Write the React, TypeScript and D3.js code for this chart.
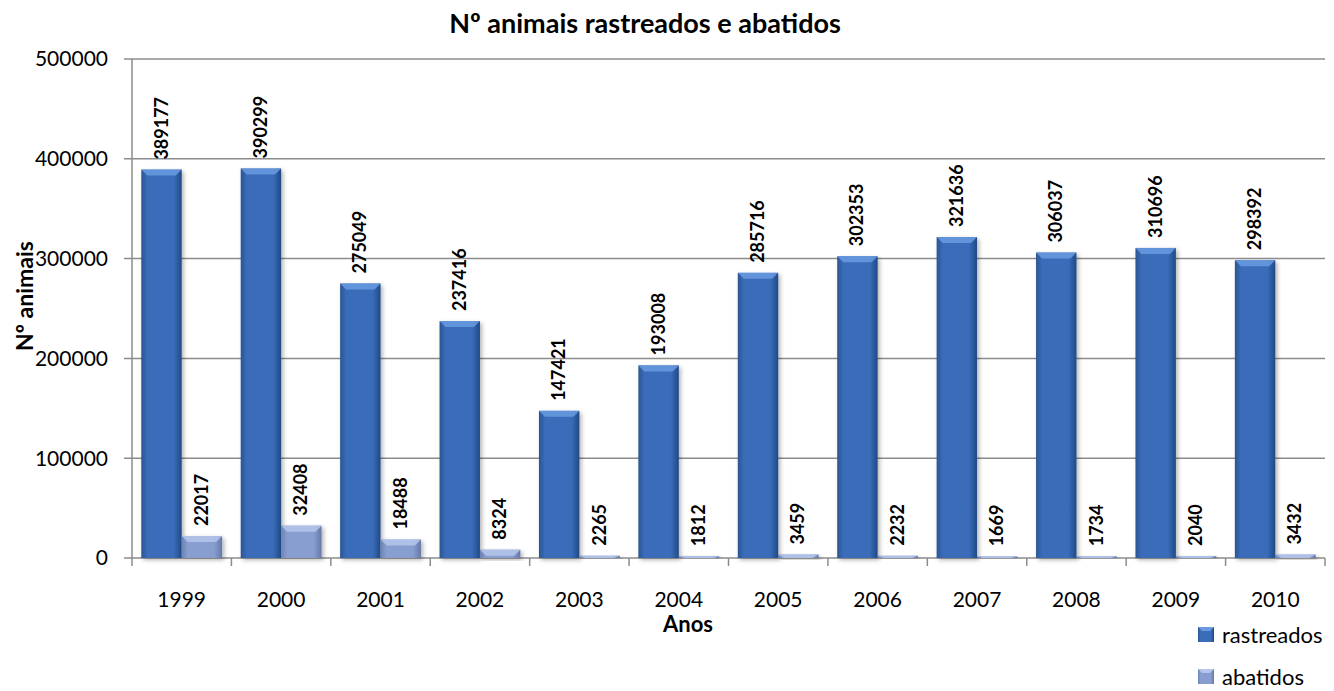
import React, { useEffect, useRef } from "react";
import * as d3 from "d3";

const years = ["1999", "2000", "2001", "2002", "2003", "2004", "2005", "2006", "2007", "2008", "2009", "2010"];
const rastreados = [389177, 390299, 275049, 237416, 147421, 193008, 285716, 302353, 321636, 306037, 310696, 298392];
const abatidos = [22017, 32408, 18488, 8324, 2265, 1812, 3459, 2232, 1669, 1734, 2040, 3432];
const seriesNames = ["rastreados", "abatidos"];
const yTicks = [0, 100000, 200000, 300000, 400000, 500000];

const FONT = "Lato, 'Open Sans', sans-serif";

const App: React.FC = () => {
  const ref = useRef<SVGSVGElement>(null);

  useEffect(() => {
    const svg = d3.select(ref.current);
    svg.selectAll("*").remove();

    const left = 132, right = 1325, top = 59, bottom = 558;

    const defs = svg.append("defs");
    const mkGrad = (id: string, c0: string, c1: string, c2: string) => {
      const g = defs.append("linearGradient").attr("id", id).attr("x1", "0").attr("x2", "1").attr("y1", "0").attr("y2", "0");
      g.append("stop").attr("offset", "0%").attr("stop-color", c0);
      g.append("stop").attr("offset", "15%").attr("stop-color", c1);
      g.append("stop").attr("offset", "80%").attr("stop-color", c1);
      g.append("stop").attr("offset", "100%").attr("stop-color", c2);
    };
    mkGrad("gR", "#2a5592", "#3a6cba", "#1f4a85");
    mkGrad("gA", "#6b82b2", "#889ed0", "#6579a8");
    const f = defs.append("filter").attr("id", "sh").attr("x", "-20%").attr("y", "-20%").attr("width", "150%").attr("height", "150%");
    f.append("feDropShadow").attr("dx", 2).attr("dy", 2).attr("stdDeviation", 2).attr("flood-color", "#000").attr("flood-opacity", 0.3);

    const x = d3.scaleBand().domain(years).range([left, right]).paddingInner(0).paddingOuter(0);
    const xs = d3.scaleBand().domain(seriesNames).range([0, x.bandwidth()]).paddingInner(0).paddingOuter(0.23);
    const y = d3.scaleLinear().domain([0, 500000]).range([bottom, top]);

    // gridlines
    svg.append("g").selectAll("line").data(yTicks).enter().append("line")
      .attr("x1", left - 8).attr("x2", right)
      .attr("y1", d => y(d)).attr("y2", d => y(d))
      .attr("stroke", "#8c8c8c").attr("stroke-width", 1.5);

    // y axis line
    svg.append("line").attr("x1", left).attr("x2", left).attr("y1", top).attr("y2", bottom)
      .attr("stroke", "#8c8c8c").attr("stroke-width", 1.5);

    // x ticks
    const bounds = years.map(d => x(d)!).concat([right]);
    svg.append("g").selectAll("line").data(bounds).enter().append("line")
      .attr("x1", d => d).attr("x2", d => d).attr("y1", bottom).attr("y2", bottom + 8)
      .attr("stroke", "#8c8c8c").attr("stroke-width", 1.5);

    // y tick labels
    svg.append("g").selectAll("text").data(yTicks).enter().append("text")
      .attr("x", 108).attr("y", d => y(d)).attr("dy", "0.35em")
      .attr("text-anchor", "end").attr("font-family", FONT).attr("font-size", 21)
      .text(d => String(d));

    // x tick labels
    svg.append("g").selectAll("text").data(years).enter().append("text")
      .attr("x", d => x(d)! + x.bandwidth() / 2).attr("y", 607)
      .attr("text-anchor", "middle").attr("font-family", FONT).attr("font-size", 21)
      .text(d => d);

    const series = [
      { name: "rastreados", values: rastreados, fill: "url(#gR)", top: "#6a9be0" },
      { name: "abatidos", values: abatidos, fill: "url(#gA)", top: "#b5c6ea" },
    ];

    series.forEach(s => {
      const g = svg.append("g");
      const bw = xs.bandwidth();
      const bars = g.selectAll("g.bar").data(years).enter().append("g");
      bars.append("rect")
        .attr("x", (d) => x(d)! + xs(s.name)!)
        .attr("y", (d, i) => y(s.values[i]))
        .attr("width", bw)
        .attr("height", (d, i) => bottom - y(s.values[i]))
        .attr("fill", s.fill)
        .attr("filter", "url(#sh)");
      // bevel top
      bars.append("path")
        .attr("d", (d, i) => {
          const x0 = x(d)! + xs(s.name)!;
          const y0 = y(s.values[i]);
          const h = Math.min(6, bottom - y0);
          return `M${x0},${y0}L${x0 + bw},${y0}L${x0 + bw - 6},${y0 + h}L${x0 + 6},${y0 + h}Z`;
        })
        .attr("fill", s.top).attr("opacity", 0.85);
      // labels
      g.selectAll("text").data(years).enter().append("text")
        .attr("transform", (d, i) => {
          const cx = x(d)! + xs(s.name)! + bw / 2;
          const cy = y(s.values[i]) - 10;
          return `translate(${cx + 6},${cy}) rotate(-90)`;
        })
        .attr("text-anchor", "start").attr("font-family", FONT).attr("font-size", 18)
        .attr("font-weight", "bold")
        .text((d, i) => String(s.values[i]));
    });

    // title
    svg.append("text").attr("x", 645).attr("y", 33).attr("text-anchor", "middle")
      .attr("font-family", FONT).attr("font-size", 27).attr("font-weight", "bold")
      .text("Nº animais rastreados e abatidos");

    // axis titles
    svg.append("text").attr("transform", `translate(33,296) rotate(-90)`).attr("text-anchor", "middle")
      .attr("font-family", FONT).attr("font-size", 23).attr("font-weight", "bold")
      .text("Nº animais");
    svg.append("text").attr("x", 688).attr("y", 632).attr("text-anchor", "middle")
      .attr("font-family", FONT).attr("font-size", 22).attr("font-weight", "bold")
      .text("Anos");

    // legend
    series.forEach((s, i) => {
      const ly = 635 + i * 42;
      svg.append("rect").attr("x", 1198).attr("y", ly - 8).attr("width", 16).attr("height", 15)
        .attr("fill", s.fill);
      svg.append("path")
        .attr("d", `M1198,${ly - 8}L1214,${ly - 8}L1210,${ly - 4}L1202,${ly - 4}Z`)
        .attr("fill", s.top);
      svg.append("text").attr("x", 1222).attr("y", ly).attr("dy", "0.35em")
        .attr("font-family", FONT).attr("font-size", 22).text(s.name);
    });
  }, []);

  return (
    <svg ref={ref} width={1334} height={691}
      style={{ position: "absolute", left: 0, top: 0, background: "#fff" }} />
  );
};

export default App;
